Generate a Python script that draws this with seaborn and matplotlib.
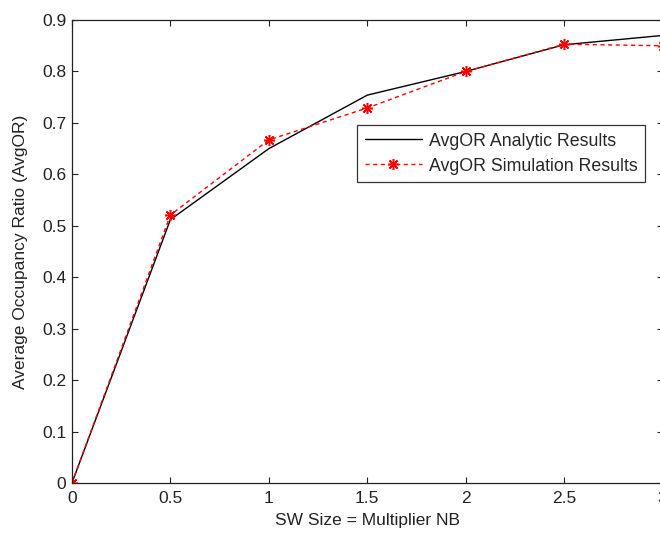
import matplotlib
matplotlib.use("Agg")
import matplotlib.pyplot as plt
import seaborn as sns
import pandas as pd

# SW size multipliers and average occupancy ratios
multipliers = [0, 0.5, 1, 1.5, 2, 2.5, 3]
analytic = [0.0, 0.512, 0.650, 0.754, 0.800, 0.852, 0.870]
simulation = [0.0, 0.521, 0.667, 0.729, 0.800, 0.853, 0.850]

x_ticks = [0, 0.5, 1, 1.5, 2, 2.5, 3]
x_tick_labels = ["0", "0.5", "1", "1.5", "2", "2.5", "3"]
y_ticks = [0, 0.1, 0.2, 0.3, 0.4, 0.5, 0.6, 0.7, 0.8, 0.9]
y_tick_labels = ["0", "0.1", "0.2", "0.3", "0.4", "0.5", "0.6", "0.7", "0.8", "0.9"]

sns.set_style("ticks")
plt.rcParams["font.family"] = ["Liberation Sans", "DejaVu Sans"]

df_a = pd.DataFrame({"x": multipliers, "y": analytic})
df_s = pd.DataFrame({"x": multipliers, "y": simulation})

fig = plt.figure(figsize=(6.6, 5.34), dpi=100)
ax = fig.add_axes([0.109, 0.0955, 0.895, 0.867])

sns.lineplot(data=df_a, x="x", y="y", ax=ax, color="black", linewidth=1.0,
             label="AvgOR Analytic Results")
sns.lineplot(data=df_s, x="x", y="y", ax=ax, color="red", linewidth=1.0,
             linestyle=(0, (3, 2.5)), marker=(8, 2, 0), markersize=8,
             markeredgewidth=1.1, markeredgecolor="red",
             label="AvgOR Simulation Results")

ax.set_xlim(0, 3)
ax.set_ylim(0, 0.9)
ax.set_xticks(x_ticks)
ax.set_xticklabels(x_tick_labels)
ax.set_yticks(y_ticks)
ax.set_yticklabels(y_tick_labels)
ax.tick_params(axis="both", direction="in", length=4.5, width=0.8, top=True, right=True,
               labelsize=12.5, colors="#222222")
ax.tick_params(axis="x", pad=6)
ax.tick_params(axis="y", pad=4)
for s in ax.spines.values():
    s.set_color("#222222")
    s.set_linewidth(0.9)

ax.set_xlabel("SW Size = Multiplier NB", fontsize=12.5, color="#222222", labelpad=5)
ax.set_ylabel("Average Occupancy Ratio (AvgOR)", fontsize=12.5, color="#222222", labelpad=10)

leg = ax.legend(loc="upper right", bbox_to_anchor=(0.97, 0.773), borderaxespad=0,
                fontsize=12.8, frameon=True, fancybox=False, handlelength=3.2,
                handletextpad=0.4, borderpad=0.42, labelspacing=0.45)
leg.get_frame().set_edgecolor("black")
leg.get_frame().set_linewidth(0.9)

fig.savefig("out.png", dpi=100, facecolor="white")
